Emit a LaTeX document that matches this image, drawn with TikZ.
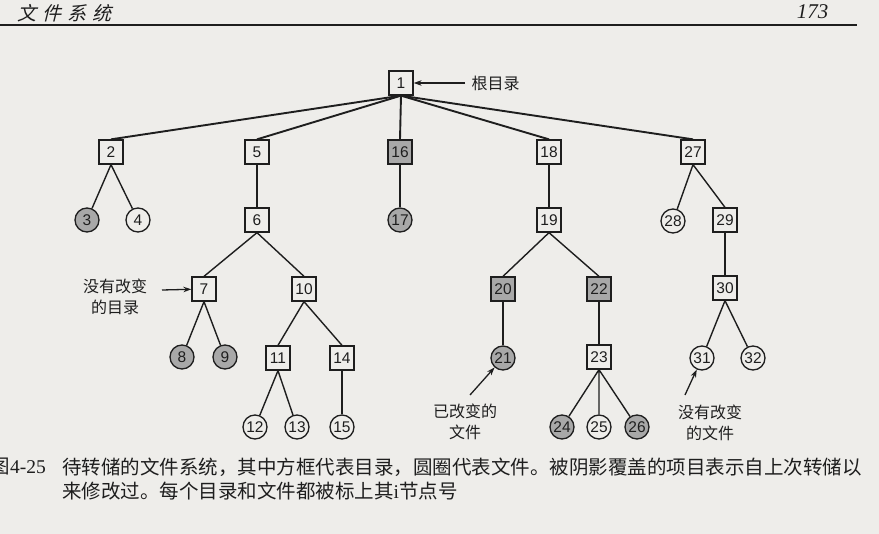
\documentclass[tikz,border=0pt]{standalone}
\usepackage{fontspec}
\setmainfont{Liberation Serif}
\setsansfont{Liberation Sans}
\newfontfamily\cjk{Noto Sans CJK SC}
\newfontfamily\cjkslant[FakeSlant=0.25]{Noto Sans CJK SC}
\usetikzlibrary{arrows.meta}
\definecolor{paper}{RGB}{238,237,234}
\definecolor{ink}{RGB}{30,30,30}
\definecolor{shade}{RGB}{168,168,168}

\begin{document}
\begin{tikzpicture}[>={Stealth[length=8pt,width=5.5pt]}, x=1pt, y=-1pt,
    dir/.style={draw=ink, line width=1.3pt, rectangle, minimum size=24pt, inner sep=0pt,
        font=\sffamily\fontsize{15.5}{15.5}\selectfont, text=ink},
    file/.style={draw=ink, line width=1.3pt, circle, minimum size=24pt, inner sep=0pt,
        font=\sffamily\fontsize{15.5}{15.5}\selectfont, text=ink},
    changed/.style={fill=shade},
    link/.style={draw=ink, line width=1.4pt},
    note/.style={font=\cjk\fontsize{16}{21}\selectfont, text=ink, align=center}]

    \fill[paper] (0,0) rectangle (879,534);
    \useasboundingbox (0,0) rectangle (879,534);

    % page head
    \node[anchor=west, text=ink, font=\cjkslant\fontsize{19}{19}\selectfont] (headtitle) at (14,13)
        {文\hspace{6pt}件\hspace{6pt}系\hspace{6pt}统};
    \node[anchor=east, text=ink, font=\itshape\fontsize{21}{21}\selectfont] (headpage) at (832,12) {173};
    \draw[ink, line width=1.3pt] (0,25) -- (857,25);

    % directories
    \node[dir] (d1) at (401,83) {1};
    \node[dir] (d2) at (111,152) {2};
    \node[dir] (d5) at (257,152) {5};
    \node[dir, changed] (d16) at (400,152) {16};
    \node[dir] (d18) at (549,152) {18};
    \node[dir] (d27) at (693,152) {27};
    \node[dir] (d6) at (257,220) {6};
    \node[dir] (d19) at (549,220) {19};
    \node[dir] (d29) at (725,220) {29};
    \node[dir] (d7) at (204,289) {7};
    \node[dir] (d10) at (304,289) {10};
    \node[dir, changed] (d20) at (503,289) {20};
    \node[dir, changed] (d22) at (599,289) {22};
    \node[dir] (d30) at (725,288) {30};
    \node[dir] (d11) at (278,358) {11};
    \node[dir] (d14) at (342,358) {14};
    \node[dir] (d23) at (599,357) {23};

    % files
    \node[file, changed] (f3) at (87,220) {3};
    \node[file] (f4) at (138,220) {4};
    \node[file, changed] (f17) at (400,220) {17};
    \node[file] (f28) at (673,221) {28};
    \node[file, changed] (f8) at (182,357) {8};
    \node[file, changed] (f9) at (225,357) {9};
    \node[file, changed] (f21) at (503,358) {21};
    \node[file] (f31) at (702,358) {31};
    \node[file] (f32) at (753,358) {32};
    \node[file] (f12) at (255,427) {12};
    \node[file] (f13) at (297,427) {13};
    \node[file] (f15) at (342,427) {15};
    \node[file, changed] (f24) at (562,427) {24};
    \node[file] (f25) at (599,427) {25};
    \node[file, changed] (f26) at (637,427) {26};

    % edges
    \draw[link, line width=1.9pt] (d1.south) -- (d2.north);
    \draw[link, line width=1.9pt] (d1.south) -- (d5.north);
    \draw[link, line width=1.9pt] (d1.south) -- (d16.north);
    \draw[link, line width=1.9pt] (d1.south) -- (d18.north);
    \draw[link, line width=1.9pt] (d1.south) -- (d27.north);
    \draw[link] (d2.south) -- (f3) (d2.south) -- (f4);
    \draw[link] (d5.south) -- (d6.north);
    \draw[link] (d16.south) -- (f17.north);
    \draw[link] (d18.south) -- (d19.north);
    \draw[link] (d27.south) -- (f28) (d27.south) -- (d29.north);
    \draw[link] (d6.south) -- (d7.north) (d6.south) -- (d10.north);
    \draw[link] (d19.south) -- (d20.north) (d19.south) -- (d22.north);
    \draw[link] (d29.south) -- (d30.north);
    \draw[link] (d7.south) -- (f8) (d7.south) -- (f9);
    \draw[link] (d10.south) -- (d11.north) (d10.south) -- (d14.north);
    \draw[link] (d20.south) -- (f21.north);
    \draw[link] (d22.south) -- (d23.north);
    \draw[link] (d30.south) -- (f31) (d30.south) -- (f32);
    \draw[link] (d11.south) -- (f12) (d11.south) -- (f13);
    \draw[link] (d14.south) -- (f15.north);
    \draw[link] (d23.south) -- (f24) (d23.south) -- (f25.north) (d23.south) -- (f26);

    % notes
    \node[note, anchor=west] (lblroot) at (468,83) {根目录};
    \node[note] (lblunchdir) at (115,297) {没有改变\\的目录};
    \node[note] (lblchfile) at (465,422) {已改变的\\文件};
    \node[note] (lblunchfile) at (710,423) {没有改变\\的文件};
    \coordinate (aroot) at (465,83);
    \coordinate (adir) at (162,290);
    \coordinate (achfile) at (470,395);
    \coordinate (aunchfile) at (685,395);
    \draw[->, ink, line width=1.3pt] (aroot) -- (d1);
    \draw[->, ink, line width=1.3pt] (adir) -- (d7);
    \draw[->, ink, line width=1.3pt] (achfile) -- (f21);
    \draw[->, ink, line width=1.3pt] (aunchfile) -- (f31);

    % caption
    \node[anchor=east, text=ink, font=\fontsize{19.5}{19.5}\selectfont, inner sep=0pt] (capnum) at (46,467)
        {{\cjk 图}4-25};
    \node[anchor=west, text=ink, font=\cjk\fontsize{19.5}{19.5}\selectfont, inner sep=0pt] (capone) at (62,467)
        {待转储的文件系统，其中方框代表目录，圆圈代表文件。被阴影覆盖的项目表示自上次转储以};
    \node[anchor=west, text=ink, font=\cjk\fontsize{19.5}{19.5}\selectfont, inner sep=0pt] (captwo) at (62,491)
        {来修改过。每个目录和文件都被标上其{\rmfamily i}节点号};

\end{tikzpicture}
\end{document}
